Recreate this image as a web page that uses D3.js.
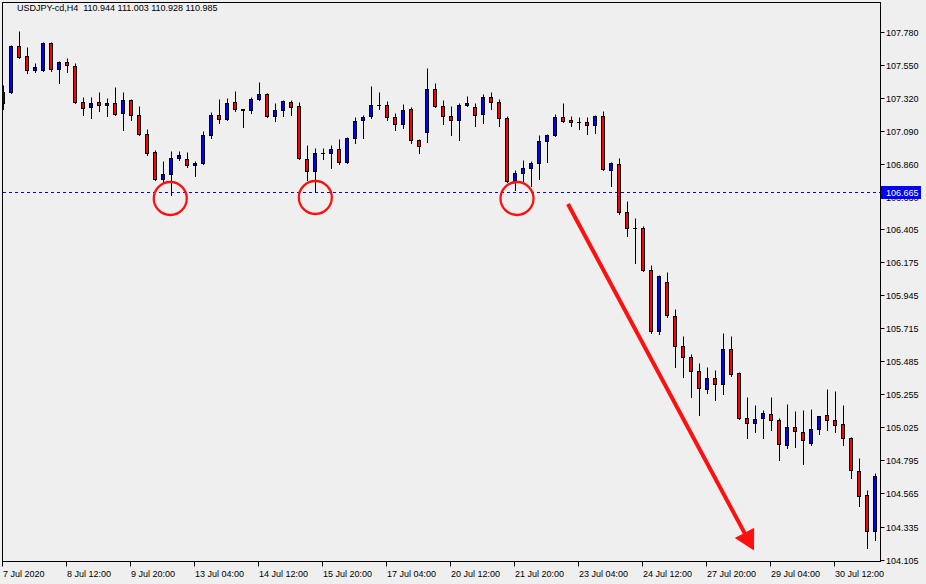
<!DOCTYPE html>
<html>
<head>
<meta charset="utf-8">
<script src="https://cdn.jsdelivr.net/npm/d3@7"></script>
<style>
  html, body { margin: 0; padding: 0; background: #efefef; }
  svg { display: block; }
  text { font-family: "Liberation Sans", Arial, sans-serif; font-size: 9px; fill: #000; white-space: pre; }
</style>
</head>
<body>
<svg id="chart" width="926" height="584"></svg>
<script>
// ---- data (USDJPY H4) ----
const title = "USDJPY-cd,H4  110.944 111.003 110.928 110.985";

const open = [107.284,107.360,107.680,107.611,107.513,107.513,107.701,107.520,107.569,107.541,
107.291,107.256,107.291,107.270,107.284,107.214,107.305,107.200,107.068,106.943,
106.752,106.790,106.901,106.894,106.849,106.866,107.061,107.200,107.170,107.291,
107.241,107.235,107.312,107.346,107.193,107.235,107.291,107.263,106.894,106.810,
106.936,106.936,106.964,106.873,107.040,107.165,107.193,107.270,107.270,107.186,
107.138,107.242,107.026,107.082,107.381,107.263,107.193,107.165,107.270,107.256,
107.207,107.325,107.291,107.179,106.741,106.797,106.831,106.866,107.019,107.061,
107.186,107.165,107.151,107.151,107.131,107.193,106.817,106.859,106.525,106.414,
106.414,106.121,105.697,106.038,105.801,105.592,105.516,105.418,105.293,105.370,
105.328,105.572,105.405,105.091,105.057,105.091,105.119,105.077,104.903,105.029,
104.994,104.917,105.015,105.112,105.077,105.050,104.952,104.722,104.555,104.305];

const high = [107.411,107.687,107.785,107.673,107.562,107.708,107.708,107.576,107.597,107.562,
107.326,107.326,107.362,107.319,107.395,107.362,107.312,107.263,107.103,106.957,
106.882,106.952,106.952,106.945,106.880,107.089,107.221,107.312,107.319,107.367,
107.242,107.326,107.430,107.353,107.284,107.305,107.305,107.291,106.991,106.971,
106.971,106.991,107.033,107.045,107.186,107.200,107.402,107.360,107.298,107.214,
107.277,107.256,107.033,107.527,107.423,107.305,107.263,107.284,107.332,107.284,
107.346,107.360,107.312,107.193,106.817,106.887,106.880,107.061,107.067,107.207,
107.284,107.193,107.186,107.186,107.199,107.228,106.873,106.901,106.602,106.483,
106.428,106.156,106.087,106.108,105.850,105.662,105.537,105.474,105.446,105.425,
105.683,105.662,105.410,105.237,105.182,105.147,105.237,105.091,105.189,105.140,
105.147,105.154,105.107,105.293,105.279,105.182,104.958,104.813,104.590,104.709];

const low = [107.244,107.353,107.594,107.493,107.497,107.508,107.504,107.420,107.500,107.284,
107.197,107.179,107.225,107.190,107.197,107.093,107.163,107.061,106.922,106.748,
106.727,106.641,106.884,106.838,106.778,106.859,107.040,107.145,107.163,107.228,
107.114,107.214,107.305,107.186,107.158,107.193,107.200,106.894,106.745,106.664,
106.894,106.829,106.859,106.866,107.005,107.040,107.179,107.242,107.165,107.096,
107.110,107.005,106.933,107.012,107.256,107.138,107.061,107.028,107.263,107.124,
107.145,107.242,107.124,106.734,106.678,106.741,106.706,106.755,106.873,107.054,
107.151,107.124,107.103,107.068,107.075,106.816,106.703,106.511,106.358,106.170,
106.114,105.683,105.676,105.794,105.446,105.377,105.237,105.112,105.265,105.217,
105.258,105.384,105.084,104.949,104.991,104.949,105.005,104.799,104.880,104.890,
104.771,104.903,104.980,105.005,104.994,104.903,104.674,104.479,104.187,104.240];

const close = [107.360,107.680,107.604,107.513,107.534,107.701,107.520,107.569,107.548,107.291,
107.249,107.284,107.270,107.284,107.204,107.305,107.200,107.065,106.934,106.755,
106.790,106.901,106.922,106.852,106.866,107.061,107.200,107.172,107.284,107.242,
107.237,107.312,107.346,107.193,107.235,107.298,107.256,106.901,106.810,106.936,
106.935,106.964,106.873,107.040,107.158,107.186,107.270,107.267,107.186,107.138,
107.235,107.026,106.984,107.381,107.263,107.193,107.165,107.270,107.284,107.200,
107.325,107.291,107.179,106.741,106.797,106.831,106.866,107.019,107.061,107.186,
107.158,107.151,107.150,107.131,107.193,106.823,106.866,106.525,106.414,106.413,
106.121,105.697,106.080,105.808,105.592,105.516,105.418,105.300,105.370,105.328,
105.572,105.398,105.090,105.057,105.084,105.126,105.077,104.910,105.029,105.001,
104.938,105.015,105.105,105.077,105.042,104.952,104.729,104.548,104.305,104.688];

const priceTicks = [107.780,107.550,107.320,107.090,106.860,106.630,106.405,106.175,
                    105.945,105.715,105.485,105.255,105.025,104.795,104.565,104.335,104.105];
const timeTickIndex = [0,8,16,24,32,40,48,56,64,72,80,88,96,104];
const timeTickLabels = ["7 Jul 2020","8 Jul 12:00","9 Jul 20:00","13 Jul 04:00","14 Jul 12:00",
  "15 Jul 20:00","17 Jul 04:00","20 Jul 12:00","21 Jul 20:00","23 Jul 04:00","24 Jul 12:00",
  "27 Jul 20:00","29 Jul 04:00","30 Jul 12:00"];

const bidLevel = 106.665;
// support circles (candle index, price) and trend arrow (from / to)
const circleIdx = [20.91, 39.04, 64.25];
const circlePrice = [106.621, 106.628, 106.621];
const arrowIdx = [70.62, 93.87];
const arrowPrice = [106.583, 104.171];

// ---- layout ----
const svg = d3.select("#chart");
const L = 2.5, R = 880.5, T = 2.5, B = 561.5;

const x = d3.scaleLinear().domain([0, 1]).range([3, 11]);
const y = d3.scaleLinear().domain([104.105, 107.780]).range([560, 32]);
const crisp = v => Math.floor(v + 0.05) + 0.5;

svg.append("rect").attr("width", 926).attr("height", 584).attr("fill", "#efefef");

svg.append("clipPath").attr("id", "plot")
  .append("rect").attr("x", 3).attr("y", 3).attr("width", R - 3).attr("height", B - 3);

const plot = svg.append("g").attr("clip-path", "url(#plot)");

// bid line
plot.append("line")
  .attr("x1", 3).attr("x2", R)
  .attr("y1", crisp(y(bidLevel))).attr("y2", crisp(y(bidLevel)))
  .attr("stroke", "#0000ff").attr("stroke-width", 1).attr("stroke-dasharray", "3,3");

const idx = d3.range(open.length);

// wicks
plot.append("g").selectAll("line").data(idx).join("line")
  .attr("x1", i => x(i) + 0.5).attr("x2", i => x(i) + 0.5)
  .attr("y1", i => crisp(y(high[i]))).attr("y2", i => crisp(y(low[i])) + 0.5)
  .attr("stroke", "#000").attr("stroke-width", 1);

// bodies
const bodies = plot.append("g");
idx.forEach(i => {
  const yt = crisp(y(Math.max(open[i], close[i])));
  const yb = crisp(y(Math.min(open[i], close[i])));
  if (yb - yt < 1) {
    bodies.append("line")
      .attr("x1", x(i) - 2).attr("x2", x(i) + 2)
      .attr("y1", yt).attr("y2", yt)
      .attr("stroke", "#000").attr("stroke-width", 1);
  } else {
    bodies.append("rect")
      .attr("x", x(i) - 1.5).attr("width", 3)
      .attr("y", yt).attr("height", yb - yt)
      .attr("fill", close[i] > open[i] ? "#0000ff" : "#ff0000")
      .attr("stroke", "#000").attr("stroke-width", 1);
  }
});

// annotations: circles
plot.append("g").selectAll("circle").data(circleIdx).join("circle")
  .attr("cx", (d, j) => x(d)).attr("cy", (d, j) => y(circlePrice[j]))
  .attr("r", 16.5)
  .attr("fill", "none").attr("stroke", "#ff1010").attr("stroke-width", 2.3);

// annotation: arrow
{
  const x1 = x(arrowIdx[0]), y1 = y(arrowPrice[0]);
  const x2 = x(arrowIdx[1]), y2 = y(arrowPrice[1]);
  const len = Math.hypot(x2 - x1, y2 - y1);
  const ux = (x2 - x1) / len, uy = (y2 - y1) / len;
  const headLen = 20, headHalf = 11;
  const bx = x2 - ux * headLen, by = y2 - uy * headLen;
  plot.append("line")
    .attr("x1", x1).attr("y1", y1).attr("x2", bx + ux * 2).attr("y2", by + uy * 2)
    .attr("stroke", "#ff1010").attr("stroke-width", 4);
  plot.append("path")
    .attr("d", `M${x2},${y2}L${bx - uy * headHalf},${by + ux * headHalf}L${bx + uy * headHalf},${by - ux * headHalf}Z`)
    .attr("fill", "#ff1010");
}

// frame
svg.append("rect").attr("x", L).attr("y", T).attr("width", R - L).attr("height", B - T)
  .attr("fill", "none").attr("stroke", "#000").attr("stroke-width", 1);

// price axis (right)
const yAxis = svg.append("g");
priceTicks.forEach(p => {
  const yy = crisp(y(p));
  yAxis.append("line").attr("x1", R).attr("x2", R + 4).attr("y1", yy).attr("y2", yy)
    .attr("stroke", "#000");
  yAxis.append("text").attr("x", 886).attr("y", yy + 3.5).text(p.toFixed(3));
});
// bid label
{
  const yy = crisp(y(bidLevel));
  yAxis.append("rect").attr("x", 881).attr("y", yy - 6.5).attr("width", 40).attr("height", 13)
    .attr("fill", "#0000ff");
  yAxis.append("text").attr("x", 886).attr("y", yy + 3.5).style("fill", "#fff")
    .text(bidLevel.toFixed(3));
}

// time axis (bottom)
const xAxis = svg.append("g");
timeTickIndex.forEach((k, j) => {
  const xx = x(k) - 0.5;
  xAxis.append("line").attr("x1", xx).attr("x2", xx).attr("y1", B).attr("y2", B + 5)
    .attr("stroke", "#000");
  xAxis.append("text").attr("x", xx + 0.5).attr("y", 577).text(timeTickLabels[j]);
});

// title
svg.append("text").attr("x", 17).attr("y", 11).text(title);
</script>
</body>
</html>
